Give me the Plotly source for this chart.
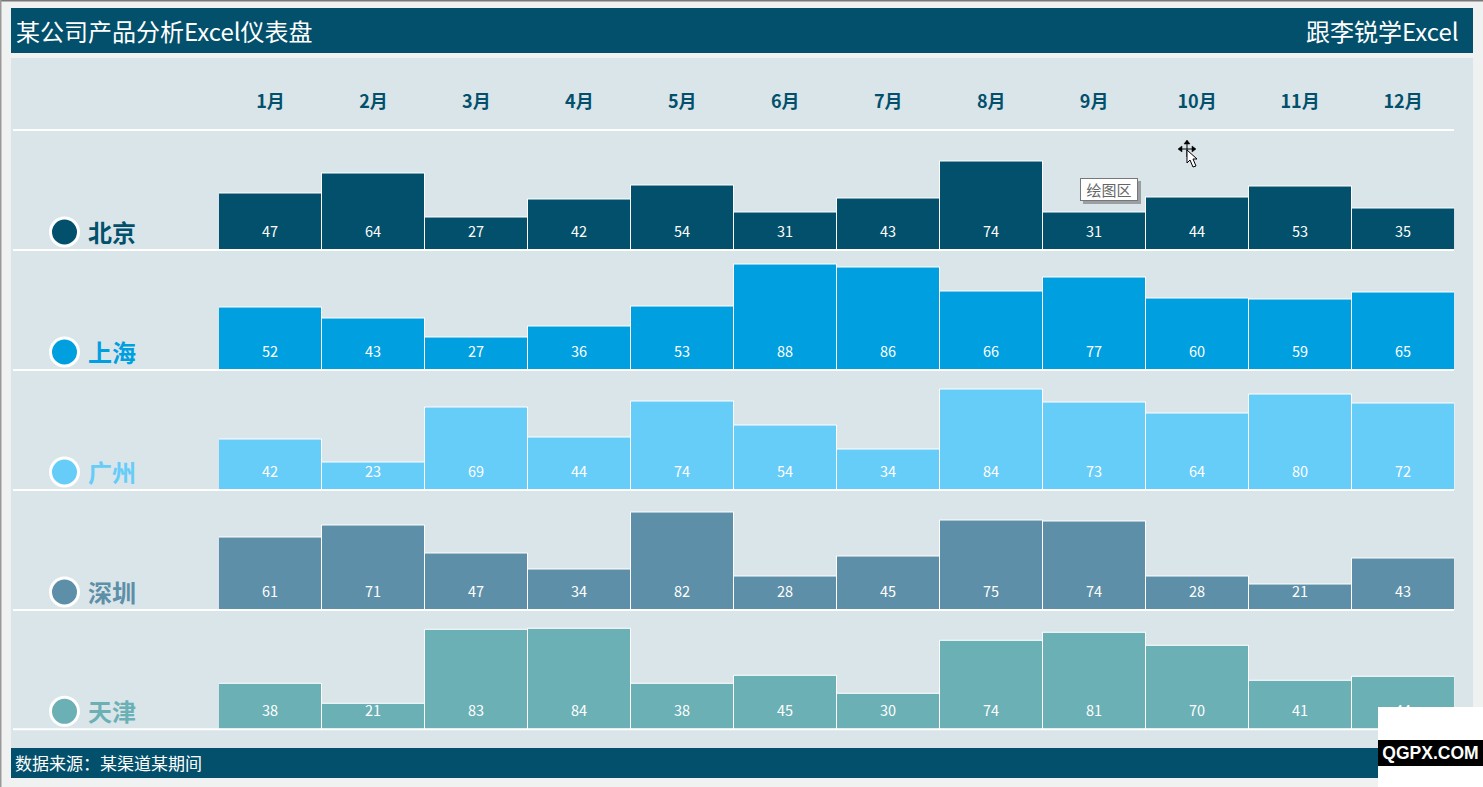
import plotly.graph_objects as go

W = 1483
H = 787
FONT = "Noto Sans CJK SC"

months = ["1月", "2月", "3月", "4月", "5月", "6月", "7月", "8月", "9月", "10月", "11月", "12月"]
cities = ["北京", "上海", "广州", "深圳", "天津"]
colors = ["#02506B", "#009FE0", "#66CCF8", "#5E8FA8", "#6BB0B5"]

beijing = [47, 64, 27, 42, 54, 31, 43, 74, 31, 44, 53, 35]
shanghai = [52, 43, 27, 36, 53, 88, 86, 66, 77, 60, 59, 65]
guangzhou = [42, 23, 69, 44, 74, 54, 34, 84, 73, 64, 80, 72]
shenzhen = [61, 71, 47, 34, 82, 28, 45, 75, 74, 28, 21, 43]
tianjin = [38, 21, 83, 84, 38, 45, 30, 74, 81, 70, 41, 44]
series = [beijing, shanghai, guangzhou, shenzhen, tianjin]

baselines = [250, 370, 490, 610, 729.3]


def px(x):
    return x / W


def py(y):
    return 1 - y / H


def rect(x0, y0, x1, y1, color, layer="below"):
    return dict(type="rect", xref="paper", yref="paper", x0=px(x0), x1=px(x1), y0=py(y0), y1=py(y1),
                fillcolor=color, line_width=0, layer=layer)


def hline(y, color="white"):
    return dict(type="line", xref="paper", yref="paper", x0=px(13), x1=px(1454), y0=py(y), y1=py(y),
                line=dict(color=color, width=2), layer="above")


def path(points, fill="black", line="black", width=0.8, close=True):
    d = "M" + " L".join(f"{px(a):.5f},{py(b):.5f}" for a, b in points) + (" Z" if close else "")
    return dict(type="path", xref="paper", yref="paper", path=d, fillcolor=fill if close else None,
                line=dict(color=line, width=width), layer="above")


def label(x, y, text, size, color="white", bold=False, anchor="left", family=FONT):
    return dict(xref="paper", yref="paper", x=px(x), y=py(y), text=f"<b>{text}</b>" if bold else text,
                showarrow=False, xanchor=anchor, yanchor="middle", borderpad=0,
                font=dict(family=family, size=size, color=color))


fig = go.Figure()
shapes = [
    rect(0, 0, W, 1.5, "#777777"),
    rect(0, 0, 1.5, H, "#999999"),
    rect(11, 8, 1473, 53, "#02506B"),
    rect(11, 58, 1473, 748, "#DAE5EA"),
    rect(11, 748, 1473, 778, "#02506B"),
    hline(130),
]
annotations = [
    label(15, 31, "某公司产品分析Excel仪表盘", 24),
    label(1460, 31, "跟李锐学Excel", 24, anchor="right"),
    label(14, 762, "数据来源：某渠道某期间", 17),
]

for i, (city, color, values, base) in enumerate(zip(cities, colors, series, baselines)):
    n = i + 1
    suffix = "" if i == 0 else str(n)
    fig.add_trace(go.Bar(x=months, y=values, name=city, xaxis=f"x{suffix}", yaxis=f"y{suffix}",
                         width=1, marker=dict(color=color, line=dict(color="white", width=1)),
                         hoverinfo="skip", showlegend=False))
    # one axis unit is about 1.195 px
    fig.update_layout({
        f"yaxis{suffix}": dict(domain=[py(base), py(base - 119.5)], range=[0, 100], visible=False,
                               anchor=f"x{suffix}", fixedrange=True),
        f"xaxis{suffix}": dict(domain=[px(219), px(1454.5)], range=[-0.5, 11.5], type="category",
                               categoryorder="array", categoryarray=months, showgrid=False,
                               showline=False, zeroline=False, showticklabels=False, ticks="",
                               anchor=f"y{suffix}", fixedrange=True),
    })
    shapes.append(hline(base))
    shapes.append(dict(type="circle", xref="paper", yref="paper", x0=px(50.5), x1=px(78.5),
                       y0=py(base - 4), y1=py(base - 32), fillcolor=color,
                       line=dict(color="white", width=3), layer="above"))
    annotations.append(label(87, base - 19, city, 24, color=color, bold=True))
    for m, v in zip(months, values):
        annotations.append(dict(x=m, y=0, xref=f"x{suffix}", yref=f"y{suffix}", yshift=20,
                                text=str(v), showarrow=False, xanchor="center", yanchor="middle",
                                font=dict(family=FONT, size=14.5, color="white")))

# month labels sit on the first row's axis, lifted up into the header band
fig.update_layout(xaxis=dict(showticklabels=True, side="top", anchor="free", position=py(112),
                             tickfont=dict(family=FONT, size=18, color="#02506B", weight="bold")))

# tooltip and cursor left over from the screenshot
shapes.append(rect(1083, 181, 1141, 204, "#9A9FA3", layer="above"))
annotations.append(dict(xref="paper", yref="paper", x=px(1080), y=py(178), width=56, height=21,
                        xanchor="left", yanchor="top", text="绘图区", showarrow=False,
                        bgcolor="white", bordercolor="#777777", borderwidth=1, borderpad=0,
                        font=dict(family=FONT, size=15, color="#666666")))
cx, cy = 1187, 150
shapes.append(path([(cx, cy - 7), (cx, cy + 7)], line="black", width=1, close=False))
shapes.append(path([(cx - 7, cy - 1), (cx + 8, cy - 1)], line="black", width=1, close=False))
shapes.append(path([(cx - 3, cy - 6), (cx, cy - 10), (cx + 3, cy - 6)], line="black", width=0.5))
shapes.append(path([(cx - 5, cy - 4), (cx - 9, cy - 1), (cx - 5, cy + 2)], line="black", width=0.5))
shapes.append(path([(cx + 5, cy - 4), (cx + 9, cy - 1), (cx + 5, cy + 2)], line="black", width=0.5))
shapes.append(path([(cx, cy), (cx, cy + 13), (cx + 3, cy + 10), (cx + 6, cy + 17), (cx + 9, cy + 16),
                    (cx + 6, cy + 9), (cx + 10, cy + 9)], fill="white", line="black", width=1))

# watermark box in the corner, it hides most of the last label
annotations.append(dict(xref="paper", yref="paper", x=px(1378), y=py(707), width=105, height=80,
                        xanchor="left", yanchor="top", text=" ", showarrow=False, bgcolor="white",
                        borderpad=0, borderwidth=0))
annotations.append(dict(xref="paper", yref="paper", x=px(1378), y=py(740), width=105, height=26,
                        xanchor="left", yanchor="top", text="<b>QGPX.COM</b>", showarrow=False,
                        bgcolor="black", borderpad=0, borderwidth=0,
                        font=dict(family="Liberation Sans", size=17.5, color="white")))

fig.update_layout(width=W, height=H, margin=dict(l=0, r=0, t=0, b=0), autosize=False,
                  paper_bgcolor="#F0F2F1", plot_bgcolor="rgba(0,0,0,0)", bargap=0,
                  hovermode=False, showlegend=False, shapes=shapes, annotations=annotations,
                  font=dict(family=FONT))

fig.write_html("out.html", config={"displayModeBar": False},
               post_script="document.body.style.margin='0';document.body.style.overflow='hidden';")
